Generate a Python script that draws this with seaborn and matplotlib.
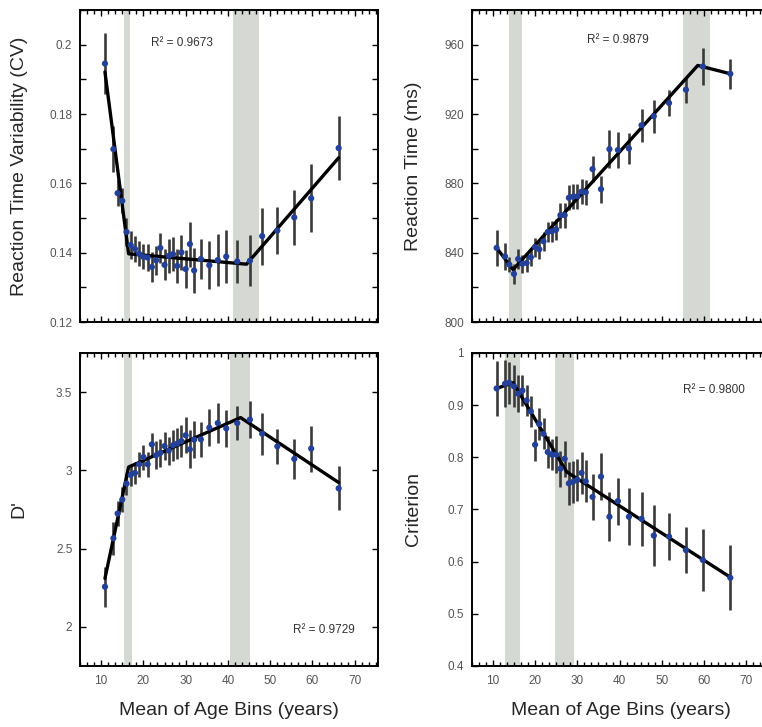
import numpy as np
import matplotlib
matplotlib.use("Agg")
import matplotlib.pyplot as plt
import seaborn as sns
from matplotlib.ticker import MultipleLocator

# ages of the bins (same for every panel)
ages = [10.9, 12.9, 13.9, 15.0, 16.0, 17.0, 18.0, 19.0, 20.0, 21.0, 22.0, 23.0, 24.0, 25.0, 26.0, 27.0,
        28.0, 29.0, 30.0, 31.0, 32.0, 33.6, 35.6, 37.6, 39.6, 42.2, 45.2, 48.1, 51.7, 55.7, 59.7, 66.2]

# reaction time variability (CV)
cv_mean = [0.1946, 0.1699, 0.1572, 0.1550, 0.1460, 0.1422, 0.1411, 0.1397, 0.1388, 0.1386, 0.1359,
           0.1378, 0.1414, 0.1365, 0.1391, 0.1396, 0.1362, 0.1401, 0.1353, 0.1425, 0.1349, 0.1382,
           0.1364, 0.1379, 0.1389, 0.1375, 0.1377, 0.1448, 0.1464, 0.1502, 0.1557, 0.1702]
cv_err = [0.0089, 0.0067, 0.0038, 0.0036, 0.0040, 0.0040, 0.0038, 0.0036, 0.0036, 0.0038, 0.0042,
          0.0042, 0.0043, 0.0045, 0.0048, 0.0050, 0.0050, 0.0050, 0.0055, 0.0065, 0.0065, 0.0057,
          0.0070, 0.0075, 0.0077, 0.0063, 0.0073, 0.0082, 0.0067, 0.0079, 0.0098, 0.0092]
cv_fit_x = [10.9, 16.5, 44.4, 66.2]
cv_fit_y = [0.1922, 0.1397, 0.1367, 0.1674]
cv_bands = [(15.3, 16.9), (41.2, 47.3)]

# reaction time (ms)
rt_mean = [842.8, 837.9, 833.2, 827.8, 836.4, 833.6, 834.1, 837.4, 843.3, 842.0, 846.6, 852.0,
           852.3, 853.4, 861.7, 861.7, 871.7, 872.4, 872.6, 875.3, 874.9, 888.3, 876.7, 899.8,
           899.3, 900.2, 913.6, 918.8, 926.4, 934.1, 947.5, 943.3]
rt_err = [10.5, 7.7, 4.5, 5.7, 5.6, 5.0, 5.0, 5.0, 5.5, 5.5, 5.5, 6.0, 6.0, 6.0, 7.2, 7.2,
          7.2, 7.2, 7.2, 7.2, 7.2, 7.7, 7.7, 11.0, 10.5, 9.0, 9.4, 9.4, 7.5, 7.5, 10.8, 8.8]
rt_fit_x = [10.9, 14.8, 58.5, 66.2]
rt_fit_y = [842.8, 830.3, 948.1, 943.3]
rt_bands = [(13.8, 17.0), (55.0, 61.5)]

# d prime
dp_mean = [2.256, 2.566, 2.724, 2.813, 2.915, 2.970, 2.983, 3.039, 3.085, 3.039, 3.166, 3.096,
           3.111, 3.155, 3.126, 3.160, 3.171, 3.187, 3.224, 3.134, 3.196, 3.198, 3.273, 3.302,
           3.268, 3.302, 3.324, 3.234, 3.153, 3.073, 3.139, 2.885]
dp_err = [0.128, 0.106, 0.08, 0.08, 0.07, 0.07, 0.07, 0.08, 0.08, 0.08, 0.074, 0.09, 0.09, 0.09,
          0.09, 0.10, 0.10, 0.10, 0.114, 0.122, 0.117, 0.11, 0.117, 0.13, 0.12, 0.11, 0.12, 0.133,
          0.11, 0.13, 0.147, 0.14]
dp_fit_x = [10.9, 16.5, 43.0, 66.2]
dp_fit_y = [2.309, 3.021, 3.337, 2.922]
dp_bands = [(15.3, 17.3), (40.6, 45.3)]

# criterion
cr_mean = [0.932, 0.941, 0.943, 0.936, 0.922, 0.928, 0.909, 0.888, 0.824, 0.864, 0.845, 0.810,
           0.805, 0.805, 0.778, 0.797, 0.750, 0.753, 0.757, 0.770, 0.754, 0.724, 0.763, 0.686,
           0.716, 0.686, 0.682, 0.650, 0.648, 0.622, 0.603, 0.569]
cr_err = [0.053, 0.045, 0.040, 0.040, 0.035, 0.030, 0.030, 0.030, 0.031, 0.030, 0.030, 0.030,
          0.030, 0.035, 0.035, 0.035, 0.041, 0.040, 0.040, 0.040, 0.040, 0.044, 0.045, 0.047,
          0.045, 0.055, 0.052, 0.059, 0.045, 0.044, 0.060, 0.062]
cr_fit_x = [10.9, 14.8, 27.5, 66.2]
cr_fit_y = [0.932, 0.943, 0.772, 0.570]
cr_bands = [(12.8, 16.5), (24.8, 29.3)]

r2_values = ["0.9673", "0.9879", "0.9729", "0.9800"]

sns.set_style("ticks")
plt.rcParams["font.family"] = ["Liberation Sans", "DejaVu Sans"]

fig = plt.figure(figsize=(7.62, 7.27), dpi=100)

dot_color = "#23409a"
band_color = "#d5d8d3"
fmt_g = matplotlib.ticker.FuncFormatter(lambda v, p: f"{v:g}")


def draw_panel(ax, mean, err, fit_x, fit_y, bands):
    for lo, hi in bands:
        ax.axvspan(lo, hi, color=band_color, lw=0, zorder=0)
    ax.errorbar(ages, mean, yerr=err, fmt="none", ecolor="#3a3a3a", elinewidth=1.9, capsize=0, zorder=2)
    sns.lineplot(x=fit_x, y=fit_y, ax=ax, color="black", lw=2.4, sort=False, zorder=3)
    sns.scatterplot(x=ages, y=mean, ax=ax, color=dot_color, s=20, edgecolor="none", zorder=4)
    ax.set_xlim(5, 75.5)
    ax.xaxis.set_major_locator(MultipleLocator(10))
    ax.xaxis.set_minor_locator(MultipleLocator(10 / 6))
    ax.tick_params(which="both", direction="in", top=True, right=True, labelsize=8.5,
                   labelcolor="#555555", color="black", width=1)
    ax.tick_params(which="major", length=4)
    ax.tick_params(which="minor", length=3)
    ax.tick_params(axis="x", pad=6.5)
    ax.tick_params(axis="y", pad=5.5)
    for s in ax.spines.values():
        s.set_linewidth(1.4)
        s.set_color("black")


# top-left: CV
ax1 = fig.add_axes([0.105, 0.557, 0.391, 0.429])
draw_panel(ax1, cv_mean, cv_err, cv_fit_x, cv_fit_y, cv_bands)
ax1.set_ylim(0.12, 0.21)
ax1.yaxis.set_major_locator(MultipleLocator(0.02))
ax1.yaxis.set_minor_locator(MultipleLocator(0.01))
ax1.yaxis.set_major_formatter(fmt_g)
ax1.tick_params(axis="y", which="minor", length=4)
ax1.set_xticklabels([])
ax1.set_ylabel("Reaction Time Variability (CV)", fontsize=14)
ax1.yaxis.set_label_coords(-0.175, 0.5)
ax1.text(29.2, 0.2005, "R² = " + r2_values[0], fontsize=8.5, color="#333333", ha="center", va="center")

# top-right: RT
ax2 = fig.add_axes([0.619, 0.557, 0.391, 0.429])
draw_panel(ax2, rt_mean, rt_err, rt_fit_x, rt_fit_y, rt_bands)
ax2.set_ylim(800, 980)
ax2.yaxis.set_major_locator(MultipleLocator(40))
ax2.yaxis.set_minor_locator(MultipleLocator(20))
ax2.tick_params(axis="y", which="minor", length=4)
ax2.set_xticklabels([])
ax2.set_ylabel("Reaction Time (ms)", fontsize=14)
ax2.yaxis.set_label_coords(-0.168, 0.5)
ax2.text(39.7, 963, "R² = " + r2_values[1], fontsize=8.5, color="#333333", ha="center", va="center")

# bottom-left: D'
ax3 = fig.add_axes([0.105, 0.084, 0.391, 0.4305])
draw_panel(ax3, dp_mean, dp_err, dp_fit_x, dp_fit_y, dp_bands)
ax3.set_ylim(1.75, 3.75)
ax3.yaxis.set_major_locator(MultipleLocator(0.5))
ax3.yaxis.set_major_formatter(fmt_g)
ax3.set_ylabel("D'", fontsize=14)
ax3.yaxis.set_label_coords(-0.175, 0.5)
ax3.set_xlabel("Mean of Age Bins (years)", fontsize=14)
ax3.xaxis.set_label_coords(0.5, -0.115)
ax3.text(62.6, 1.98, "R² = " + r2_values[2], fontsize=8.5, color="#333333", ha="center", va="center")

# bottom-right: criterion
ax4 = fig.add_axes([0.619, 0.084, 0.391, 0.4305])
draw_panel(ax4, cr_mean, cr_err, cr_fit_x, cr_fit_y, cr_bands)
ax4.set_ylim(0.4, 1.0)
ax4.yaxis.set_major_locator(MultipleLocator(0.1))
ax4.yaxis.set_major_formatter(fmt_g)
ax4.set_ylabel("Criterion", fontsize=14)
ax4.yaxis.set_label_coords(-0.168, 0.5)
ax4.set_xlabel("Mean of Age Bins (years)", fontsize=14)
ax4.xaxis.set_label_coords(0.5, -0.115)
ax4.text(62.4, 0.929, "R² = " + r2_values[3], fontsize=8.5, color="#333333", ha="center", va="center")

fig.savefig("out.png", dpi=100)
